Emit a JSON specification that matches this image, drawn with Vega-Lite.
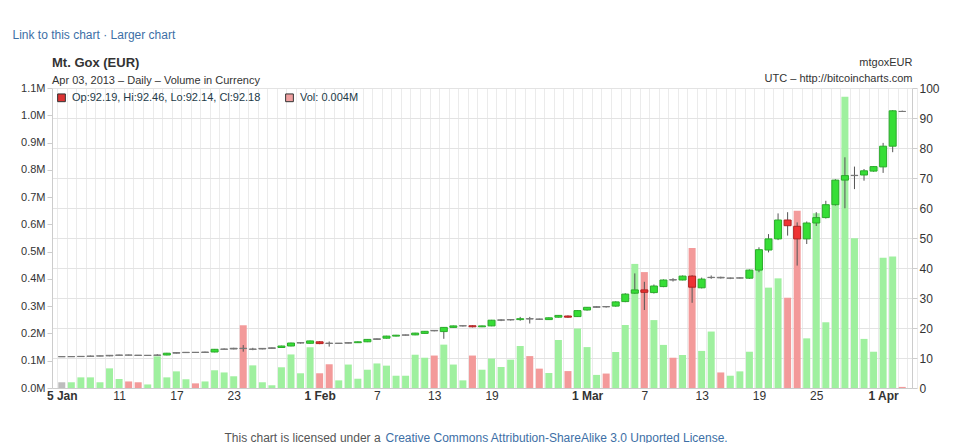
{
  "$schema": "https://vega.github.io/schema/vega-lite/v6.json",
  "width": 860,
  "height": 300,
  "autosize": {"type": "none"},
  "padding": {"left": 52, "top": 88, "right": 49, "bottom": 55},
  "background": "white",
  "config": {"font": "Liberation Sans", "view": {"stroke": null}},
  "title": {
    "text": "Mt. Gox (EUR)",
    "subtitle": "Apr 03, 2013 – Daily – Volume in Currency",
    "anchor": "start",
    "frame": "group",
    "offset": -58,
    "fontSize": 13,
    "fontWeight": "bold",
    "color": "#333333",
    "subtitleFontSize": 11,
    "subtitleColor": "#333333",
    "subtitlePadding": 5
  },
  "datasets": {
    "ohlc": [
      {"date": "2013-01-05", "open": 10.44, "high": 10.5, "low": 10.35, "close": 10.44, "vol": 0.021},
      {"date": "2013-01-06", "open": 10.44, "high": 10.55, "low": 10.35, "close": 10.47, "vol": 0.021},
      {"date": "2013-01-07", "open": 10.47, "high": 10.65, "low": 10.4, "close": 10.55, "vol": 0.039},
      {"date": "2013-01-08", "open": 10.55, "high": 10.8, "low": 10.45, "close": 10.65, "vol": 0.039},
      {"date": "2013-01-09", "open": 10.65, "high": 10.8, "low": 10.55, "close": 10.7, "vol": 0.021},
      {"date": "2013-01-10", "open": 10.7, "high": 11.0, "low": 10.6, "close": 10.9, "vol": 0.072},
      {"date": "2013-01-11", "open": 10.9, "high": 11.1, "low": 10.8, "close": 11.0, "vol": 0.033},
      {"date": "2013-01-12", "open": 11.0, "high": 11.1, "low": 10.85, "close": 10.95, "vol": 0.024},
      {"date": "2013-01-13", "open": 10.95, "high": 11.0, "low": 10.75, "close": 10.85, "vol": 0.021},
      {"date": "2013-01-14", "open": 10.85, "high": 11.0, "low": 10.75, "close": 10.9, "vol": 0.013},
      {"date": "2013-01-15", "open": 10.9, "high": 11.3, "low": 10.7, "close": 11.0, "vol": 0.116},
      {"date": "2013-01-16", "open": 11.0, "high": 11.7, "low": 10.9, "close": 11.6, "vol": 0.039},
      {"date": "2013-01-17", "open": 11.6, "high": 11.9, "low": 11.5, "close": 11.8, "vol": 0.061},
      {"date": "2013-01-18", "open": 11.8, "high": 12.0, "low": 11.7, "close": 11.9, "vol": 0.032},
      {"date": "2013-01-19", "open": 11.9, "high": 12.0, "low": 11.7, "close": 11.85, "vol": 0.017},
      {"date": "2013-01-20", "open": 11.85, "high": 12.1, "low": 11.8, "close": 12.0, "vol": 0.024},
      {"date": "2013-01-21", "open": 12.0, "high": 13.0, "low": 11.9, "close": 12.9, "vol": 0.065},
      {"date": "2013-01-22", "open": 12.9, "high": 13.2, "low": 12.8, "close": 13.0, "vol": 0.057},
      {"date": "2013-01-23", "open": 13.0, "high": 13.4, "low": 12.9, "close": 13.25, "vol": 0.043},
      {"date": "2013-01-24", "open": 13.25, "high": 14.3, "low": 12.1, "close": 13.15, "vol": 0.23},
      {"date": "2013-01-25", "open": 12.9, "high": 13.4, "low": 12.6, "close": 13.0, "vol": 0.083},
      {"date": "2013-01-26", "open": 13.0, "high": 13.3, "low": 12.9, "close": 13.2, "vol": 0.021},
      {"date": "2013-01-27", "open": 13.2, "high": 13.5, "low": 13.1, "close": 13.4, "vol": 0.01},
      {"date": "2013-01-28", "open": 13.5, "high": 14.1, "low": 13.4, "close": 14.0, "vol": 0.076},
      {"date": "2013-01-29", "open": 14.0, "high": 15.1, "low": 13.9, "close": 15.0, "vol": 0.123},
      {"date": "2013-01-30", "open": 15.0, "high": 15.3, "low": 14.8, "close": 15.1, "vol": 0.054},
      {"date": "2013-01-31", "open": 14.9, "high": 15.8, "low": 14.8, "close": 15.7, "vol": 0.149},
      {"date": "2013-02-01", "open": 15.4, "high": 15.6, "low": 14.6, "close": 14.8, "vol": 0.054},
      {"date": "2013-02-02", "open": 14.95, "high": 15.5, "low": 13.8, "close": 14.85, "vol": 0.087},
      {"date": "2013-02-03", "open": 14.85, "high": 15.0, "low": 14.7, "close": 14.95, "vol": 0.028},
      {"date": "2013-02-04", "open": 14.95, "high": 15.2, "low": 14.9, "close": 15.1, "vol": 0.086},
      {"date": "2013-02-05", "open": 15.1, "high": 15.5, "low": 15.0, "close": 15.4, "vol": 0.034},
      {"date": "2013-02-06", "open": 15.4, "high": 16.3, "low": 15.3, "close": 16.2, "vol": 0.067},
      {"date": "2013-02-07", "open": 16.2, "high": 16.5, "low": 16.1, "close": 16.4, "vol": 0.09},
      {"date": "2013-02-08", "open": 16.6, "high": 17.4, "low": 16.5, "close": 17.3, "vol": 0.082},
      {"date": "2013-02-09", "open": 17.3, "high": 17.7, "low": 17.2, "close": 17.6, "vol": 0.045},
      {"date": "2013-02-10", "open": 17.6, "high": 17.8, "low": 17.5, "close": 17.7, "vol": 0.045},
      {"date": "2013-02-11", "open": 17.7, "high": 18.4, "low": 17.6, "close": 18.3, "vol": 0.122},
      {"date": "2013-02-12", "open": 18.2, "high": 19.0, "low": 18.1, "close": 18.9, "vol": 0.111},
      {"date": "2013-02-13", "open": 19.2, "high": 19.3, "low": 18.9, "close": 19.05, "vol": 0.119},
      {"date": "2013-02-14", "open": 18.8, "high": 20.3, "low": 16.4, "close": 20.2, "vol": 0.159},
      {"date": "2013-02-15", "open": 20.2, "high": 20.8, "low": 20.1, "close": 20.7, "vol": 0.086},
      {"date": "2013-02-16", "open": 20.7, "high": 20.9, "low": 20.5, "close": 20.75, "vol": 0.028},
      {"date": "2013-02-17", "open": 20.75, "high": 20.9, "low": 20.2, "close": 20.4, "vol": 0.119},
      {"date": "2013-02-18", "open": 20.4, "high": 20.8, "low": 20.3, "close": 20.7, "vol": 0.067},
      {"date": "2013-02-19", "open": 20.7, "high": 22.7, "low": 20.6, "close": 22.6, "vol": 0.108},
      {"date": "2013-02-20", "open": 22.6, "high": 22.9, "low": 22.3, "close": 22.7, "vol": 0.077},
      {"date": "2013-02-21", "open": 22.7, "high": 23.0, "low": 22.5, "close": 22.8, "vol": 0.104},
      {"date": "2013-02-22", "open": 22.8, "high": 23.7, "low": 22.4, "close": 23.1, "vol": 0.154},
      {"date": "2013-02-23", "open": 23.1, "high": 23.7, "low": 21.5, "close": 23.0, "vol": 0.117},
      {"date": "2013-02-24", "open": 23.0, "high": 23.1, "low": 22.7, "close": 22.9, "vol": 0.071},
      {"date": "2013-02-25", "open": 22.8, "high": 23.5, "low": 22.7, "close": 23.4, "vol": 0.055},
      {"date": "2013-02-26", "open": 23.6, "high": 24.3, "low": 23.5, "close": 24.2, "vol": 0.176},
      {"date": "2013-02-27", "open": 24.0, "high": 24.2, "low": 23.4, "close": 23.6, "vol": 0.062},
      {"date": "2013-02-28", "open": 23.8, "high": 25.9, "low": 23.7, "close": 25.8, "vol": 0.218},
      {"date": "2013-03-01", "open": 26.0, "high": 27.0, "low": 25.8, "close": 26.9, "vol": 0.15},
      {"date": "2013-03-02", "open": 26.9, "high": 27.3, "low": 26.8, "close": 27.1, "vol": 0.048},
      {"date": "2013-03-03", "open": 27.15, "high": 27.3, "low": 26.8, "close": 27.05, "vol": 0.053},
      {"date": "2013-03-04", "open": 27.3, "high": 28.9, "low": 27.1, "close": 28.7, "vol": 0.132},
      {"date": "2013-03-05", "open": 28.8, "high": 31.6, "low": 28.6, "close": 31.3, "vol": 0.231},
      {"date": "2013-03-06", "open": 31.6, "high": 38.2, "low": 31.4, "close": 32.7, "vol": 0.455},
      {"date": "2013-03-07", "open": 32.7, "high": 35.4, "low": 26.0, "close": 31.9, "vol": 0.425},
      {"date": "2013-03-08", "open": 31.8, "high": 34.5, "low": 31.5, "close": 34.0, "vol": 0.249},
      {"date": "2013-03-09", "open": 33.8, "high": 36.2, "low": 33.6, "close": 36.0, "vol": 0.158},
      {"date": "2013-03-10", "open": 36.1, "high": 36.6, "low": 35.5, "close": 36.0, "vol": 0.111},
      {"date": "2013-03-11", "open": 36.0, "high": 37.5, "low": 35.9, "close": 37.3, "vol": 0.121},
      {"date": "2013-03-12", "open": 37.3, "high": 37.6, "low": 28.4, "close": 33.6, "vol": 0.513},
      {"date": "2013-03-13", "open": 33.4, "high": 36.8, "low": 33.2, "close": 36.3, "vol": 0.136},
      {"date": "2013-03-14", "open": 36.8, "high": 37.5, "low": 36.4, "close": 36.9, "vol": 0.207},
      {"date": "2013-03-15", "open": 36.9, "high": 37.1, "low": 36.5, "close": 36.7, "vol": 0.057},
      {"date": "2013-03-16", "open": 36.6, "high": 36.8, "low": 36.3, "close": 36.65, "vol": 0.045},
      {"date": "2013-03-17", "open": 36.65, "high": 36.9, "low": 36.5, "close": 36.7, "vol": 0.061},
      {"date": "2013-03-18", "open": 36.6, "high": 39.5, "low": 36.4, "close": 39.3, "vol": 0.133},
      {"date": "2013-03-19", "open": 39.3, "high": 46.9, "low": 38.6, "close": 46.1, "vol": 0.439},
      {"date": "2013-03-20", "open": 46.0, "high": 51.3, "low": 45.2, "close": 49.7, "vol": 0.368},
      {"date": "2013-03-21", "open": 49.7, "high": 58.2, "low": 49.3, "close": 56.0, "vol": 0.402},
      {"date": "2013-03-22", "open": 56.0, "high": 58.6, "low": 50.8, "close": 54.1, "vol": 0.331},
      {"date": "2013-03-23", "open": 53.9, "high": 55.2, "low": 40.8, "close": 49.7, "vol": 0.65},
      {"date": "2013-03-24", "open": 49.7, "high": 55.5, "low": 48.0, "close": 55.0, "vol": 0.182},
      {"date": "2013-03-25", "open": 55.0, "high": 58.6, "low": 54.0, "close": 56.8, "vol": 0.641},
      {"date": "2013-03-26", "open": 56.8, "high": 62.4, "low": 56.5, "close": 61.1, "vol": 0.241},
      {"date": "2013-03-27", "open": 61.1, "high": 69.6, "low": 60.8, "close": 69.3, "vol": 0.763},
      {"date": "2013-03-28", "open": 69.3, "high": 76.9, "low": 59.9, "close": 70.8, "vol": 1.068},
      {"date": "2013-03-29", "open": 70.8, "high": 73.8, "low": 66.3, "close": 70.9, "vol": 0.549},
      {"date": "2013-03-30", "open": 71.0, "high": 73.0, "low": 69.1, "close": 72.4, "vol": 0.18},
      {"date": "2013-03-31", "open": 72.3, "high": 74.0, "low": 72.1, "close": 73.8, "vol": 0.133},
      {"date": "2013-04-01", "open": 73.7, "high": 81.7, "low": 71.7, "close": 80.6, "vol": 0.478},
      {"date": "2013-04-02", "open": 80.6, "high": 92.6, "low": 78.6, "close": 92.4, "vol": 0.482},
      {"date": "2013-04-03", "open": 92.19, "high": 92.46, "low": 92.14, "close": 92.18, "vol": 0.004}
    ],
    "info": [
      {"item": "Op:92.19, Hi:92.46, Lo:92.14, Cl:92.18"},
      {"item": "Vol: 0.004M"}
    ]
  },
  "layer": [
    {
      "data": {"name": "ohlc"},
      "mark": {"type": "bar", "width": 7},
      "encoding": {
        "x": {
          "field": "date",
          "type": "temporal",
          "scale": {
            "type": "utc",
            "domain": [
              {"year": 2013, "month": 1, "date": 4, "hours": 12, "utc": true},
              {"year": 2013, "month": 4, "date": 3, "hours": 12, "utc": true}
            ]
          },
          "axis": {
            "values": [
              {"year": 2013, "month": 1, "date": 5, "utc": true},
              {"year": 2013, "month": 1, "date": 11, "utc": true},
              {"year": 2013, "month": 1, "date": 17, "utc": true},
              {"year": 2013, "month": 1, "date": 23, "utc": true},
              {"year": 2013, "month": 2, "date": 1, "utc": true},
              {"year": 2013, "month": 2, "date": 7, "utc": true},
              {"year": 2013, "month": 2, "date": 13, "utc": true},
              {"year": 2013, "month": 2, "date": 19, "utc": true},
              {"year": 2013, "month": 3, "date": 1, "utc": true},
              {"year": 2013, "month": 3, "date": 7, "utc": true},
              {"year": 2013, "month": 3, "date": 13, "utc": true},
              {"year": 2013, "month": 3, "date": 19, "utc": true},
              {"year": 2013, "month": 3, "date": 25, "utc": true},
              {"year": 2013, "month": 4, "date": 1, "utc": true}
            ],
            "labelExpr": "(utcdate(datum.value) == 1 || (utcmonth(datum.value) == 0 && utcdate(datum.value) == 5)) ? utcFormat(datum.value, '%-d %b') : utcFormat(datum.value, '%-d')",
            "labelFontWeight": {
              "condition": {"test": "utcdate(datum.value) == 1 || (utcmonth(datum.value) == 0 && utcdate(datum.value) == 5)", "value": "bold"},
              "value": "normal"
            },
            "labelFontSize": 12,
            "labelColor": "#333333",
            "labelPadding": 2,
            "labelFlush": false,
            "labelOverlap": false,
            "ticks": false,
            "grid": false,
            "domainColor": "#cccccc",
            "title": "This chart is licensed under a ",
            "titleFontWeight": "normal",
            "titleFontSize": 12,
            "titleColor": "#555555",
            "titleAlign": "left",
            "titleBaseline": "alphabetic",
            "titleAnchor": null,
            "titleX": 172,
            "titleY": 53
          }
        },
        "y": {
          "field": "vol",
          "type": "quantitative",
          "scale": {"domain": [0, 1.1], "nice": false, "zero": true},
          "axis": {
            "orient": "left",
            "values": [0, 0.1, 0.2, 0.3, 0.4, 0.5, 0.6, 0.7, 0.8, 0.9, 1.0, 1.1],
            "labelExpr": "format(datum.value, '.1f') + 'M'",
            "labelFontSize": 11,
            "labelColor": "#333333",
            "labelPadding": 2,
            "labelOverlap": false,
            "tickSize": 5,
            "tickColor": "#cccccc",
            "domainColor": "#cccccc",
            "grid": false,
            "title": "Link to this chart · Larger chart",
            "titleFontWeight": "normal",
            "titleFontSize": 12,
            "titleColor": "#3d6fa6",
            "titleAngle": 0,
            "titleAlign": "left",
            "titleBaseline": "alphabetic",
            "titleAnchor": null,
            "titleX": -40,
            "titleY": -50
          }
        },
        "fill": {
          "condition": [
            {"test": "datum.close > datum.open", "value": "#9ff09f"},
            {"test": "datum.close < datum.open", "value": "#f39a9a"}
          ],
          "value": "#bdbdbd"
        }
      }
    },
    {
      "encoding": {
        "x": {
          "field": "date",
          "type": "temporal",
          "axis": {
            "tickCount": {"interval": "day", "step": 1},
            "labels": false,
            "ticks": false,
            "domain": false,
            "grid": true,
            "gridColor": "#ebebeb",
            "tickOffset": 4.83,
            "title": "Creative Commons Attribution-ShareAlike 3.0 Unported License.",
            "titleFontWeight": "normal",
            "titleFontSize": 12,
            "titleColor": "#3d6fa6",
            "titleAlign": "left",
            "titleBaseline": "alphabetic",
            "titleAnchor": null,
            "titleX": 333,
            "titleY": 353
          }
        }
      },
      "layer": [
        {
          "data": {"name": "ohlc"},
          "mark": {"type": "rule", "color": "#555555", "strokeWidth": 1},
          "encoding": {
            "y": {
              "field": "low",
              "type": "quantitative",
              "scale": {"domain": [0, 100], "nice": false},
              "axis": {
                "orient": "right",
                "values": [0, 10, 20, 30, 40, 50, 60, 70, 80, 90, 100],
                "labelFontSize": 12,
                "labelColor": "#333333",
                "labelPadding": 2,
                "labelOverlap": false,
                "tickSize": 5,
                "tickColor": "#cccccc",
                "domainColor": "#cccccc",
                "grid": true,
                "gridColor": "#e3e3e3",
                "title": ["mtgoxEUR", "UTC – http://bitcoincharts.com"],
                "titleFontWeight": "normal",
                "titleFontSize": 11,
                "titleColor": "#333333",
                "titleAngle": 0,
                "titleAlign": "right",
                "titleBaseline": "alphabetic",
                "titleLineHeight": 16,
                "titleAnchor": null,
                "titleX": 0,
                "titleY": -23
              }
            },
            "y2": {"field": "high"}
          }
        },
        {
          "data": {"name": "ohlc"},
          "mark": {"type": "bar", "width": 7, "strokeWidth": 1},
          "encoding": {
            "y": {
              "field": "open",
              "type": "quantitative",
              "scale": {"domain": [0, 100], "nice": false},
              "axis": {
                "orient": "right",
                "values": [0, 10, 20, 30, 40, 50, 60, 70, 80, 90, 100],
                "labelFontSize": 12,
                "labelColor": "#333333",
                "labelPadding": 2,
                "labelOverlap": false,
                "tickSize": 5,
                "tickColor": "#cccccc",
                "domainColor": "#cccccc",
                "grid": true,
                "gridColor": "#e3e3e3",
                "title": ["mtgoxEUR", "UTC – http://bitcoincharts.com"],
                "titleFontWeight": "normal",
                "titleFontSize": 11,
                "titleColor": "#333333",
                "titleAngle": 0,
                "titleAlign": "right",
                "titleBaseline": "alphabetic",
                "titleLineHeight": 16,
                "titleAnchor": null,
                "titleX": 0,
                "titleY": -23
              }
            },
            "y2": {"field": "close"},
            "fill": {
              "condition": [
                {"test": "abs(datum.close - datum.open) < 0.3", "value": "#777777"},
                {"test": "datum.close > datum.open", "value": "#36de36"}
              ],
              "value": "#ee3333"
            },
            "stroke": {
              "condition": [
                {"test": "abs(datum.close - datum.open) < 0.3", "value": "#777777"},
                {"test": "datum.close > datum.open", "value": "#2bab2b"}
              ],
              "value": "#b02222"
            }
          }
        },
        {
          "data": {"name": "info"},
          "mark": {"type": "point", "filled": true, "opacity": 0},
          "encoding": {
            "x": null,
            "color": {
              "field": "item",
              "type": "nominal",
              "scale": {
                "domain": ["Op:92.19, Hi:92.46, Lo:92.14, Cl:92.18", "Vol: 0.004M"],
                "range": ["#dd3333", "#f0a0a0"]
              },
              "legend": {
                "title": null,
                "orient": "top-left",
                "direction": "horizontal",
                "offset": 4,
                "padding": 0,
                "symbolType": "square",
                "symbolSize": 60,
                "symbolOpacity": 1,
                "symbolStrokeColor": "#333333",
                "symbolStrokeWidth": 1,
                "labelFontSize": 11,
                "labelColor": "#223a48",
                "labelLimit": 400,
                "labelOffset": 5,
                "columnPadding": 22
              }
            }
          }
        }
      ]
    }
  ],
  "resolve": {
    "scale": {"y": "independent", "color": "independent"},
    "axis": {"x": "independent", "y": "independent"}
  }
}
